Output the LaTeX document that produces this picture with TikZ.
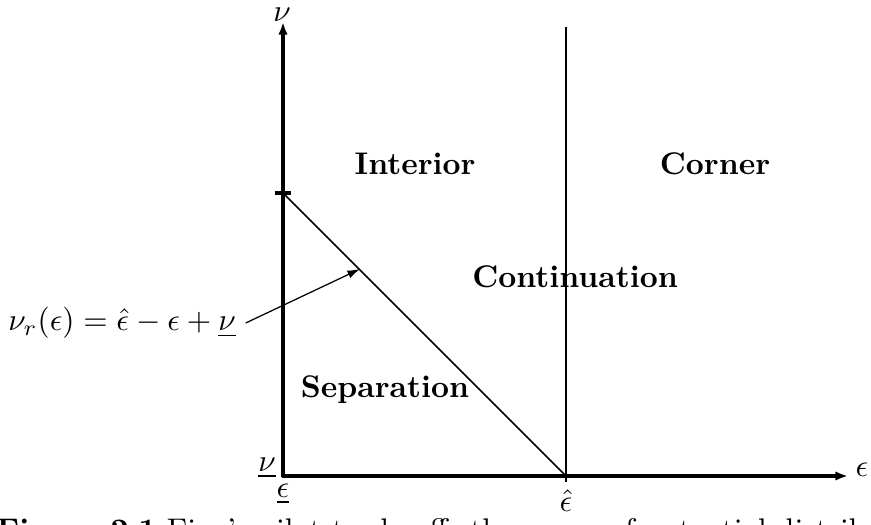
\documentclass[tikz,border=0pt]{standalone}
\usetikzlibrary{arrows.meta}
\begin{document}
\begin{tikzpicture}[x=0.3195pt,y=-0.3195pt,
  region/.style={font=\bfseries},
  axis/.style={line width=1.25pt,-{Latex[length=4pt,width=3pt]}},
  lbl/.style={inner sep=0pt}]
\clip (0,0) rectangle (871,525);
\useasboundingbox (0,0) rectangle (871,525);
% axes
\coordinate (O) at (283,476);
\coordinate (ytop) at (283,22);
\coordinate (xend) at (848,476);
\draw[axis] (283,477) -- (ytop);
\draw[axis] (282,476) -- (xend);
% tick and diagonal
\coordinate (nu0) at (283,193);
\coordinate (ehat) at (566,476);
\draw[line width=1.25pt] (275,193) -- (291,193);
\draw[line width=0.5pt] (nu0) -- (ehat);
% vertical line at epsilon hat
\coordinate (vtop) at (566,27);
\coordinate (vbot) at (566,482);
\draw[line width=0.9pt] (vtop) -- (vbot);
% region labels
\node[region] (interior) at (415,164) {Interior};
\node[region] (corner) at (715,164) {Corner};
\node[region] (cont) at (575,277) {Continuation};
\node[region] (sep) at (385,390) {Separation};
% axis labels
\node[lbl] (nulab) at (282,15) {$\nu$};
\node[lbl] (eplab) at (862,470) {$\epsilon$};
\node[lbl] (nuund) at (267,468) {$\underline{\nu}$};
\node[lbl] (epund) at (283,494) {$\underline{\epsilon}$};
\node[lbl] (ephat) at (566,501) {$\hat{\epsilon}$};
% formula and arrow
\node[lbl] (form) at (122,323) {$\nu_r(\epsilon)=\hat{\epsilon}-\epsilon+\underline{\nu}$};
\coordinate (hit) at (360,269);
\draw[line width=0.4pt,-{Latex[length=4pt,width=2.6pt]}] ([xshift=3pt]form.east) -- (hit);
% caption (cut off by the frame)
\node[anchor=base west,inner sep=0pt] (cap) at (-4,541) {\textbf{Figure 2.1} Fine's pilot trade-off: the range of potential distribution};
\end{tikzpicture}
\end{document}
